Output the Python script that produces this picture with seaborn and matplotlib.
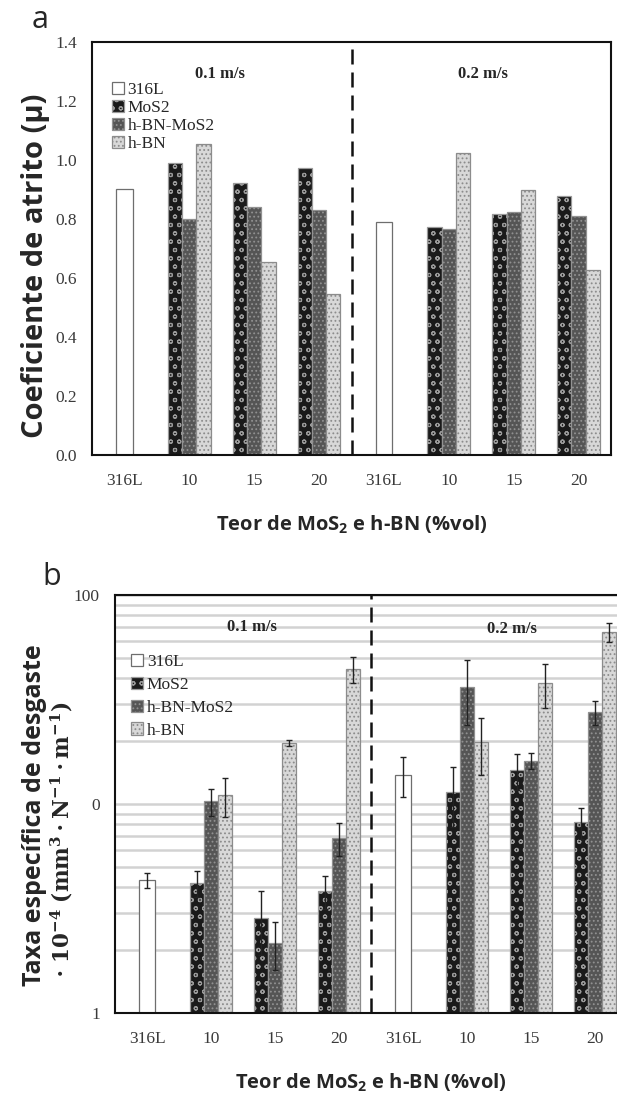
import numpy as np
import pandas as pd
import matplotlib
matplotlib.use("Agg")
import matplotlib.pyplot as plt
import seaborn as sns
from matplotlib.patches import Patch

# ---------------- data ----------------
speeds = ["0.1 m/s", "0.2 m/s"]
contents = ["10", "15", "20"]
tick_labels = ["316L", "10", "15", "20", "316L", "10", "15", "20"]
series = ["MoS2", "h-BN-MoS2", "h-BN"]
legend_labels = ["316L", "MoS2", "h-BN-MoS2", "h-BN"]

# friction coefficient (panel a)
cof_316L = [0.90, 0.79]
cof_mos2 = [0.99, 0.922, 0.973, 0.773, 0.817, 0.878]
cof_hbn_mos2 = [0.80, 0.84, 0.83, 0.766, 0.824, 0.81]
cof_hbn = [1.054, 0.655, 0.546, 1.024, 0.898, 0.627]

# specific wear rate (panel b)
wear_316L = [4.33, 13.8]
wear_316L_err = [0.35, 3.0]
wear_mos2 = [4.2, 2.86, 3.83, 11.4, 14.5, 8.2]
wear_mos2_err = [0.6, 0.97, 0.69, 3.6, 2.8, 1.4]
wear_hbn_mos2 = [10.3, 2.16, 6.87, 36.3, 16.1, 27.5]
wear_hbn_mos2_err = [1.5, 0.56, 1.2, 12.5, 1.4, 3.5]
wear_hbn = [11.0, 19.6, 44.3, 19.8, 37.9, 66.5]
wear_hbn_err = [2.3, 0.6, 6.2, 6.0, 9.0, 7.0]

# ---------------- style ----------------
sns.set_style("white")
plt.rcParams["font.family"] = ["Liberation Serif", "DejaVu Serif"]
plt.rcParams["hatch.linewidth"] = 0.8
plt.rcParams["mathtext.fontset"] = "dejavuserif"

SERIF = ["Liberation Serif", "DejaVu Serif"]
SANS = ["Open Sans", "DejaVu Sans"]

styles = {
    "base": dict(fc="white", ec="#6e6e6e", hatch=None),
    0: dict(fc="#1a1a1a", ec="#9a9a9a", hatch="oo"),
    1: dict(fc="#555555", ec="#919191", hatch="...."),
    2: dict(fc="#d8d8d8", ec="#8c8c8c", hatch="...."),
}

order = []
for s in speeds:
    order.append(s + "|316L")
    for c in contents:
        order.append(s + "|" + c)


def build(base_vals, base_err, comp_vals, comp_err):
    df_base = pd.DataFrame({
        "key": [s + "|316L" for s in speeds],
        "val": base_vals,
        "err": base_err,
    })
    rows = []
    for i, s in enumerate(speeds):
        for j, c in enumerate(contents):
            for k, name in enumerate(series):
                rows.append((s + "|" + c, name, comp_vals[k][i * 3 + j],
                             comp_err[k][i * 3 + j]))
    df_comp = pd.DataFrame(rows, columns=["key", "series", "val", "err"])
    return df_base, df_comp


def draw(ax, df_base, df_comp, with_err):
    sns.barplot(data=df_base, x="key", y="val", order=order, width=0.25,
                color="white", errorbar=None, ax=ax)
    sns.barplot(data=df_comp, x="key", y="val", hue="series",
                hue_order=series, order=order, width=0.66, gap=0,
                dodge=True, palette=["#1a1a1a", "#555555", "#d8d8d8"],
                errorbar=None, legend=False, ax=ax)
    for p in ax.patches:
        h = p.get_height()
        if not np.isfinite(h) or h == 0:
            continue
        w = p.get_width()
        cx = p.get_x() + w / 2
        idx = int(round(cx))
        off = cx - idx
        if w > 0.24:
            key = "base"
        elif off < -0.1:
            key = 0
        elif off > 0.1:
            key = 2
        else:
            key = 1
        st = styles[key]
        p.set_facecolor(st["fc"])
        p.set_edgecolor(st["ec"])
        p.set_linewidth(0.9)
        if st["hatch"]:
            p.set_hatch(st["hatch"])
        if with_err:
            sp = idx // 4
            if key == "base":
                e = df_base["err"].iloc[sp]
            else:
                c = contents[idx % 4 - 1]
                e = df_comp[(df_comp.key == speeds[sp] + "|" + c) &
                            (df_comp.series == series[key])]["err"].iloc[0]
            ax.errorbar(cx, h, yerr=e, fmt="none", ecolor="#222222",
                        elinewidth=1.0, capsize=2.5, capthick=1.0, zorder=5)

    ax.set_xlim(-0.5, len(order) - 0.5)
    ax.set_xticks(range(len(order)))
    ax.set_xticklabels(tick_labels, fontsize=12.5, color="#3a3a3a",
                       family=SERIF)
    ax.set_xticks(np.arange(-0.5, len(order), 1.0), minor=True)
    ax.tick_params(axis="x", which="major", length=0, pad=13)
    ax.tick_params(axis="x", which="minor", length=6, width=1.4,
                   direction="out", color="#111")
    ax.tick_params(axis="y", which="major", length=5, width=1.2,
                   direction="out", color="#111", labelsize=12.5,
                   labelcolor="#3a3a3a", pad=6)
    ax.axvline(3.5, color="#111", ls=(0, (6, 3.2)), lw=1.8, zorder=6)
    for sp in ax.spines.values():
        sp.set_color("#111")
        sp.set_linewidth(1.5)
    ax.set_xlabel("Teor de MoS$_\\mathregular{2}$ e h-BN (%vol)",
                  fontsize=14.5, fontweight="bold", family=SANS, labelpad=18)
    handles = [Patch(facecolor=styles[k]["fc"], edgecolor=styles[k]["ec"],
                     hatch=styles[k]["hatch"], linewidth=0.9)
               for k in ["base", 0, 1, 2]]
    return handles


fig = plt.figure(figsize=(6.17, 10.94), dpi=100)
ax1 = fig.add_axes([92 / 617, 1 - 455 / 1094, (611 - 92) / 617,
                    (455 - 42) / 1094])
ax2 = fig.add_axes([115 / 617, 1 - 1013 / 1094, (627 - 115) / 617,
                    (1013 - 595) / 1094])

# ---- panel a ----
b1, c1 = build(cof_316L, [0, 0], [cof_mos2, cof_hbn_mos2, cof_hbn],
               [[0] * 6] * 3)
h1 = draw(ax1, b1, c1, with_err=False)
ax1.set_ylim(0, 1.4)
ax1.set_yticks(np.arange(0, 1.41, 0.2))
ax1.set_yticklabels([f"{v:.1f}" for v in np.arange(0, 1.41, 0.2)],
                    family=SERIF)
ax1.set_ylabel("Coeficiente de atrito (\u03bc)", fontsize=21,
               fontweight="bold", family=SANS, va="center")
ax1.yaxis.set_label_coords((36 - 92) / 519, (455 - 266) / 413)
ax1.text(1.47, 1.29, "0.1 m/s", fontsize=12, fontweight="bold",
         family=SERIF, ha="center", va="center")
ax1.text(5.52, 1.29, "0.2 m/s", fontsize=12, fontweight="bold",
         family=SERIF, ha="center", va="center")
ax1.legend(handles=h1, labels=legend_labels, loc="upper left",
           bbox_to_anchor=(0.025, 0.92), frameon=False,
           prop=dict(family=SERIF, size=12.5), handlelength=0.7,
           handleheight=0.7, handletextpad=0.2, labelspacing=0.1,
           borderaxespad=0)

# ---- panel b ----
ax2.set_yscale("log")
b2, c2 = build(wear_316L, wear_316L_err,
               [wear_mos2, wear_hbn_mos2, wear_hbn],
               [wear_mos2_err, wear_hbn_mos2_err, wear_hbn_err])
h2 = draw(ax2, b2, c2, with_err=True)
ax2.set_ylim(1, 100)
ax2.set_yticks([1, 10, 100])
ax2.set_yticklabels(["1", "0", "100"], family=SERIF)
ax2.set_yticks([m * d for d in (1, 10) for m in range(2, 10)], minor=True)
ax2.set_yticklabels([], minor=True)
ax2.tick_params(axis="y", which="minor", length=0)
ax2.grid(True, axis="y", which="both", color="#d2d2d2", lw=1.8, zorder=0)
ax2.set_axisbelow(True)
ax2.set_ylabel("Taxa específica de desgaste", fontsize=18,
               fontweight="bold", family=SANS, va="center")
ax2.yaxis.set_label_coords((35 - 115) / 512, (1013 - 815) / 418)
ax2.text((62 - 115) / 512, (1013 - 840) / 418,
         r"$\mathbf{\cdot\ 10^{-4}\ (mm^3 \cdot N^{-1} \cdot m^{-1})}$",
         transform=ax2.transAxes, rotation=90, fontsize=15.5,
         ha="center", va="center")
ax2.text(1.64, 70, "0.1 m/s", fontsize=12, fontweight="bold",
         family=SERIF, ha="center", va="center")
ax2.text(5.7, 69, "0.2 m/s", fontsize=12, fontweight="bold",
         family=SERIF, ha="center", va="center")
ax2.legend(handles=h2, labels=legend_labels, loc="upper left",
           bbox_to_anchor=(0.018, 0.875), frameon=False,
           prop=dict(family=SERIF, size=12.5), handlelength=0.7,
           handleheight=0.7, handletextpad=0.2, labelspacing=0.38,
           borderaxespad=0)

fig.text(40 / 617, 1 - 20 / 1094, "a", fontsize=22, family=SANS,
         ha="center", va="center")
fig.text(52 / 617, 1 - 577 / 1094, "b", fontsize=22, family=SANS,
         ha="center", va="center")

fig.savefig("out.png", dpi=100)
